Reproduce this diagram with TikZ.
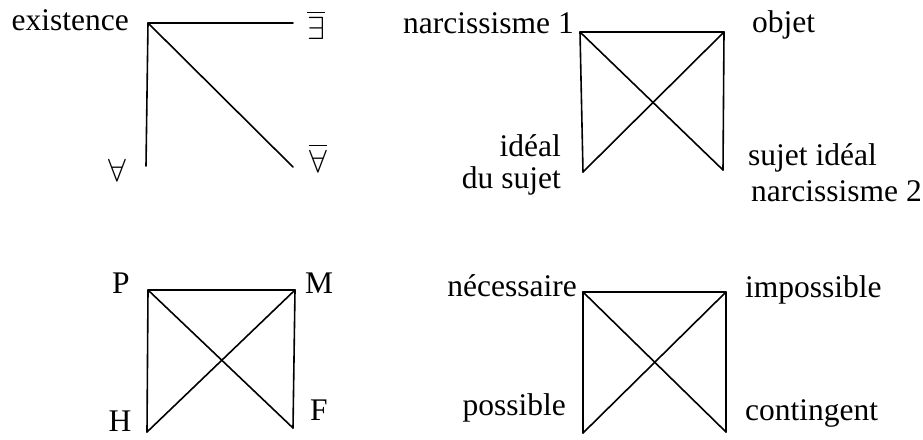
\documentclass[tikz,border=0pt]{standalone}
\usepackage{graphicx}
\usepackage{fontspec}
\setmainfont{Liberation Serif}
\begin{document}
\begin{tikzpicture}[x=1pt,y=-1pt,
  edge/.style={line width=1.6pt,line cap=round,line join=round},
  lbl/.style={inner sep=0pt,font=\fontsize{31.5}{37}\selectfont},
  sym/.style={inner sep=0pt,font=\fontsize{10}{12}\selectfont}]
\useasboundingbox[fill=white] (0,0) rectangle (923,439);
% top-left
\coordinate (e1) at (148,23);
\coordinate (e2) at (293,23);
\coordinate (e3) at (146,166);
\coordinate (e4) at (293,167);
\draw[edge] (e2) -- (e1) -- (e3);
\draw[edge] (e1) -- (e4);
\node[sym] (lnex) at (316,25) {\scalebox{3.2}{$\overline{\exists}$}};
\node[sym] (lall) at (117,170) {\scalebox{3.2}{$\forall$}};
\node[sym] (lnall) at (318,158) {\scalebox{3.2}{$\overline{\forall}$}};
\node[lbl,anchor=east] (lexist) at (129,20) {existence};
% top-right
\coordinate (n1) at (580,32);
\coordinate (n2) at (724,32);
\coordinate (n3) at (583,172);
\coordinate (n4) at (723,170);
\draw[edge] (n3) -- (n1) -- (n2) -- (n4);
\draw[edge] (n1) -- (n4);
\draw[edge] (n2) -- (n3);
\node[lbl,anchor=east] (lnar1) at (574,23) {narcissisme 1};
\node[lbl,anchor=west] (lobj) at (752,25) {objet};
\node[lbl,anchor=east] (lideal) at (561,146) {idéal};
\node[lbl,anchor=east] (ldusujet) at (561,181) {du sujet};
\node[lbl,anchor=west] (lsujid) at (748,158) {sujet idéal};
\node[lbl,anchor=west] (lnar2) at (751,191) {narcissisme 2};
% bottom-left
\coordinate (p1) at (148,290);
\coordinate (p2) at (295,290);
\coordinate (p3) at (147,432);
\coordinate (p4) at (293,428);
\draw[edge] (p3) -- (p1) -- (p2) -- (p4);
\draw[edge] (p1) -- (p4);
\draw[edge] (p2) -- (p3);
\node[lbl] (lP) at (121,283) {P};
\node[lbl] (lM) at (319,283) {M};
\node[lbl] (lH) at (120,421) {H};
\node[lbl] (lF) at (319,410) {F};
% bottom-right
\coordinate (q1) at (583,292);
\coordinate (q2) at (726,292);
\coordinate (q3) at (583,433);
\coordinate (q4) at (726,432);
\draw[edge] (q3) -- (q1) -- (q2) -- (q4);
\draw[edge] (q1) -- (q4);
\draw[edge] (q2) -- (q3);
\node[lbl,anchor=east] (lnec) at (577,286) {nécessaire};
\node[lbl,anchor=west] (limp) at (745,290) {impossible};
\node[lbl,anchor=east] (lpos) at (566,408) {possible};
\node[lbl,anchor=west] (lcont) at (745,413) {contingent};
\end{tikzpicture}
\end{document}
